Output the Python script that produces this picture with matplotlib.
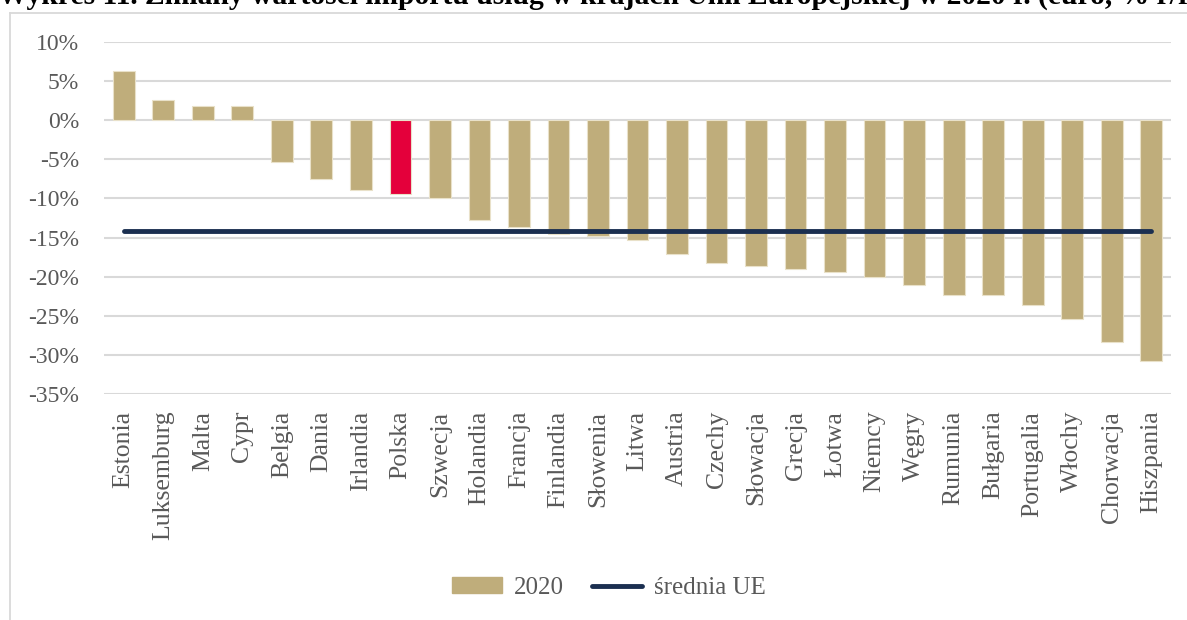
import matplotlib.pyplot as plt
import numpy as np
from matplotlib.lines import Line2D
from matplotlib.patches import Patch

# data (% change y/y, 2020)
countries = ["Estonia", "Luksemburg", "Malta", "Cypr", "Belgia", "Dania", "Irlandia",
             "Polska", "Szwecja", "Holandia", "Francja", "Finlandia", "Słowenia", "Litwa",
             "Austria", "Czechy", "Słowacja", "Grecja", "Łotwa", "Niemcy", "Węgry",
             "Rumunia", "Bułgaria", "Portugalia", "Włochy", "Chorwacja", "Hiszpania"]
values_2020 = [6.3, 2.6, 1.8, 1.8, -5.4, -7.5, -8.9,
               -9.4, -9.9, -12.7, -13.7, -14.5, -14.8, -15.3,
               -17.1, -18.2, -18.6, -19.0, -19.4, -20.0, -21.1,
               -22.3, -22.4, -23.6, -25.4, -28.4, -30.8]
eu_avg = -14.1
highlight = "Polska"
yticks = [10, 5, 0, -5, -10, -15, -20, -25, -30, -35]

gold = "#BFAD7B"
red = "#E4003B"
navy = "#1B2F50"
grid_c = "#D9D9D9"
txt_c = "#595959"
serif = ["Liberation Serif", "DejaVu Serif"]

W, H = 1187, 620
fig = plt.figure(figsize=(W / 100, H / 100), dpi=100)
ax = fig.add_axes([104 / W, 1 - 394 / H, (1171 - 104) / W, (394 - 42) / H])

x = np.arange(len(countries))
colors = [red if c == highlight else gold for c in countries]
ax.bar(x, values_2020, width=0.55, color=colors, edgecolor="#E9E1C9", linewidth=0.8, zorder=2)
ax.plot([x[0], x[-1]], [eu_avg, eu_avg], color=navy, lw=3.5, solid_capstyle="round", zorder=3)

ax.set_xlim(-0.5, len(countries) - 0.5)
ax.set_ylim(-35, 10)
ax.set_yticks(yticks)
ax.set_yticklabels([f"{v}%" for v in yticks], family=serif, fontsize=17, color=txt_c)
ax.yaxis.grid(True, color=grid_c, lw=1.5, zorder=0)
ax.set_axisbelow(True)
ax.tick_params(axis="y", length=0, pad=18)
ax.set_xticks(x)
ax.set_xticklabels(countries, rotation=90, family=serif, fontsize=18.5, color=txt_c,
                   ha="center", va="top")
ax.tick_params(axis="x", length=0, pad=12)
for s in ax.spines.values():
    s.set_visible(False)

# outer frame (top and left visible only)
fig.add_artist(Line2D([10 / W, 1], [1 - 12.5 / H, 1 - 12.5 / H], color=grid_c, lw=1.3,
                      transform=fig.transFigure))
fig.add_artist(Line2D([10 / W, 10 / W], [0, 1 - 12.5 / H], color=grid_c, lw=1.3,
                      transform=fig.transFigure))

# title (cut off at the top in the original)
fig.text(-0.002, 1 - 4 / H, "Wykres 11. Zmiany wartości importu usług w krajach Unii Europejskiej w 2020 r. (euro, % r/r)",
         family=serif, fontsize=21.3, fontweight="bold", ha="left", va="baseline", color="black")

handles = [Patch(facecolor=gold, edgecolor=gold),
           Line2D([0], [0], color=navy, lw=3.5, solid_capstyle="round")]
fig.legend(handles, ["2020", "średnia UE"], loc="center", bbox_to_anchor=(609 / W, 1 - 588 / H),
           ncol=2, frameon=False, prop={"family": serif, "size": 18}, labelcolor=txt_c,
           handlelength=2.0, handleheight=0.6, handletextpad=0.5, columnspacing=1.1)

fig.savefig("out.png", dpi=100)
